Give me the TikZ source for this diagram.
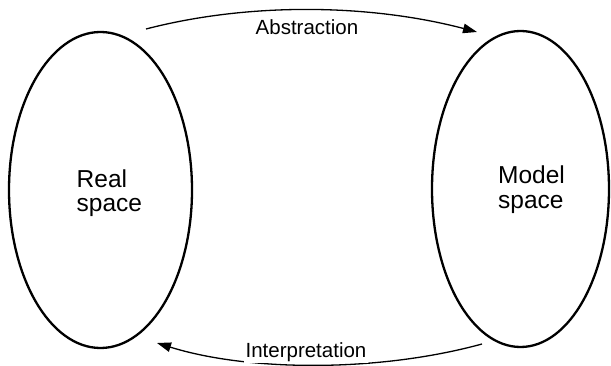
\documentclass[tikz,border=0pt]{standalone}
\usepackage{fontspec}
\setmainfont{Liberation Sans}
\usetikzlibrary{shapes.geometric,arrows.meta}

\tikzset{
  space/.style={ellipse, draw, line width=2.3pt, inner sep=0pt},
  spacetext/.style={align=left, inner sep=0pt, anchor=base west,
    font=\fontsize{24.5}{24.5}\selectfont},
  flow/.style={line width=1.3pt, -{Triangle[length=14pt, width=9.5pt]}},
  flowlabel/.style={inner sep=1.5pt, fill=white, anchor=base,
    font=\fontsize{20.5}{24}\selectfont}
}

\begin{document}
\begin{tikzpicture}[x=1pt, y=-1pt]
  \useasboundingbox (0,0) rectangle (611,366);

  % the two spaces
  \node[space, minimum width=183pt, minimum height=316pt] (real) at (100.5,190) {};
  \node[space, minimum width=177pt, minimum height=316pt] (model) at (520.5,189) {};

  % labels inside the spaces (placed by the baseline of their last line)
  \node[spacetext] (realtxt) at (76.5,212) {Real\\space};
  \node[spacetext] (modeltxt) at (498,208.3) {Model\\space};

  % ends of the two connecting arcs
  \coordinate (absfrom) at (146,29);
  \coordinate (absto) at (477,32);
  \coordinate (intfrom) at (482,344);
  \coordinate (intto) at (157,343);

  \draw[flow] (absfrom) .. controls (250,2) and (370,4) .. (absto);
  \draw[flow] (intfrom) .. controls (380,372) and (250,372) .. (intto);

  \node[flowlabel] (abs) at (307,35) {Abstraction};
  \node[flowlabel] (int) at (306,357.5) {Interpretation};
\end{tikzpicture}
\end{document}
